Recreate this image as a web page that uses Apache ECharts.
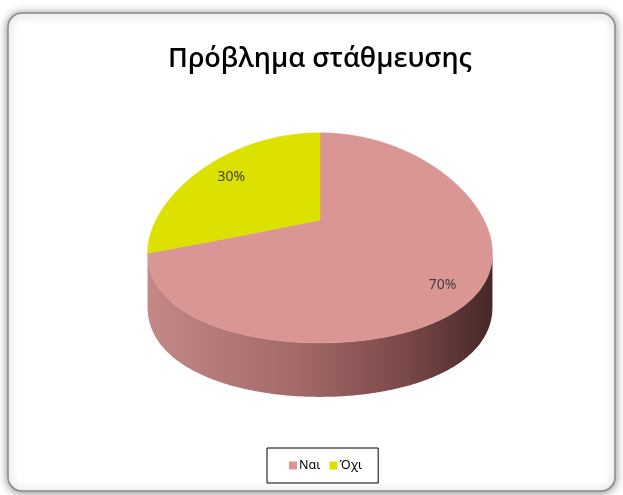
<!DOCTYPE html>
<html>
<head>
<meta charset="utf-8">
<script src="https://cdn.jsdelivr.net/npm/echarts@6/dist/echarts.min.js"></script>
<style>
  html, body { margin: 0; padding: 0; background: #ffffff; }
  #chart { width: 623px; height: 495px; }
</style>
</head>
<body>
<div id="chart"></div>
<script>
// Survey answers: "parking problem?"
const categories = ['Ναι', 'Όχι'];
const values = [70, 30];
const topColors = ['#D99694', '#DCE100'];
const sideStops = [
  [[0, '#C48888'], [0.45, '#A26767'], [0.75, '#7A4848'], [1, '#462727']],
  [[0, '#B3B800'], [1, '#6E7100']]
];

// 3D disc geometry (screen pixels)
const CX = 320, CY = 220;   // centre of the top face
const RX = 164, RY = 102;   // horizontal / depth radii
const PX = 0.309;           // horizontal perspective strength
const PY = 0.17;            // vertical perspective strength
const DEPTH = 54;           // thickness of the disc

const total = values.reduce((a, b) => a + b, 0);
const startAngles = [];
(function () {
  let acc = 0;
  values.forEach(v => { startAngles.push(acc / total * Math.PI * 2); acc += v; });
})();

// angle measured clockwise from 12 o'clock, r in [0,1]
function project(theta, r, drop) {
  const near = -Math.cos(theta) * r;
  return [
    CX + RX * r * Math.sin(theta) / (1 - PX * near),
    CY + RY * near / (1 - PY * near) + (drop || 0)
  ];
}

function arcPoints(a0, a1, drop) {
  const pts = [];
  const n = Math.max(2, Math.ceil(Math.abs(a1 - a0) / 0.01));
  for (let i = 0; i <= n; i++) pts.push(project(a0 + (a1 - a0) * i / n, 1, drop));
  return pts;
}

function radialPoints(theta) {
  const pts = [];
  for (let i = 0; i <= 20; i++) pts.push(project(theta, i / 20, 0));
  return pts;
}

// front-facing band of the cylinder wall (between the two silhouette points)
const silA = Math.acos(-PX);
const silB = Math.PI * 2 - silA;

function renderSlice(idx) {
  return function (params, api) {
    const v = api.value(0);
    const a0 = startAngles[idx];
    const a1 = a0 + v / total * Math.PI * 2;
    const children = [];

    // wall
    const s0 = Math.max(a0, silA), s1 = Math.min(a1, silB);
    if (s1 - s0 > 0.002) {
      const topArc = arcPoints(s0, s1, 0);
      const botArc = arcPoints(s0, s1, DEPTH).reverse();
      const xL = project(silB, 1)[0], xR = project(silA, 1)[0];
      children.push({
        type: 'polygon',
        shape: { points: topArc.concat(botArc) },
        style: {
          fill: new echarts.graphic.LinearGradient(xL, 0, xR, 0,
            sideStops[idx].map(s => ({ offset: s[0], color: s[1] })), true),
          stroke: null
        }
      });
    }

    // top face
    const face = radialPoints(a0).concat(arcPoints(a0, a1, 0)).concat(radialPoints(a1).reverse());
    children.push({
      type: 'polygon',
      shape: { points: face },
      style: { fill: topColors[idx], stroke: topColors[idx], lineWidth: 0.5 }
    });

    // percentage label
    const mid = (a0 + a1) / 2;
    const p = project(mid, 0.78, 0);
    const near = -Math.cos(mid);
    children.push({
      type: 'text',
      x: p[0] + 2,
      y: p[1] + Math.max(near, 0) * 25,
      style: {
        text: Math.round(v / total * 100) + '%',
        fill: '#3f3f3f',
        font: '14px "Noto Sans", sans-serif',
        align: 'center',
        verticalAlign: 'middle'
      }
    });

    return { type: 'group', children: children };
  };
}

const chart = echarts.init(document.getElementById('chart'), null, { renderer: 'canvas' });

chart.setOption({
  backgroundColor: '#ffffff',
  animation: false,
  graphic: [{
    type: 'rect',
    z: -10,
    silent: true,
    shape: { x: 8, y: 13, width: 607, height: 478, r: 14 },
    style: {
      fill: '#ffffff',
      stroke: '#8a8a8a',
      lineWidth: 1.5,
      shadowBlur: 8,
      shadowColor: 'rgba(0,0,0,0.45)',
      shadowOffsetY: 1
    }
  }],
  title: {
    text: 'Πρόβλημα στάθμευσης',
    left: 163,
    top: 41,
    textStyle: {
      fontFamily: '"Open Sans", "Noto Sans", sans-serif',
      fontSize: 27,
      fontWeight: 600,
      color: '#000000'
    }
  },
  legend: {
    data: categories,
    left: 267,
    top: 448,
    orient: 'horizontal',
    icon: 'rect',
    itemWidth: 8,
    itemHeight: 8,
    itemGap: 9,
    padding: [11, 16, 11, 22],
    borderColor: '#000000',
    borderWidth: 1,
    textStyle: { fontFamily: '"Noto Sans", sans-serif', fontSize: 12.5, color: '#000000', padding: [0, 0, 0, -3] }
  },
  series: categories.map((name, i) => ({
    type: 'custom',
    name: name,
    coordinateSystem: 'none',
    itemStyle: { color: topColors[i] },
    renderItem: renderSlice(i),
    data: [[values[i]]]
  }))
});
</script>
</body>
</html>
